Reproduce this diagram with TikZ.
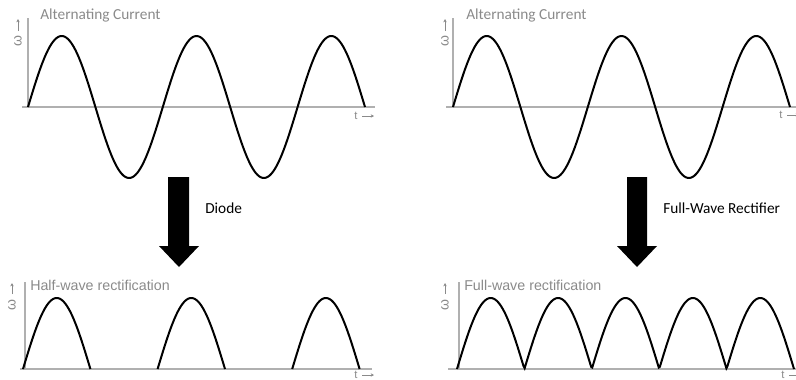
\documentclass[tikz,border=0pt]{standalone}
\usepackage{fontspec}
\setmainfont{Carlito}
\newfontfamily\arialf{Liberation Sans}
\usetikzlibrary{arrows.meta}
\definecolor{axisgray}{HTML}{B0B0B0}
\definecolor{textgray}{HTML}{8A8A8A}
\tikzset{
  axisline/.style={draw=axisgray, line width=1.1pt},
  wave/.style={draw=black, line width=1.5pt},
  title/.style={text=textgray, anchor=west, inner sep=0pt, font=\fontsize{11.5}{13}\selectfont},
  titleb/.style={text=textgray, anchor=west, inner sep=0pt, font=\arialf\fontsize{10.7}{12}\selectfont},
  omega/.style={text=textgray, rotate=90, inner sep=0pt, font=\arialf\fontsize{10.5}{12}\selectfont},
  smallarrow/.style={draw=textgray, line width=0.6pt, -{Stealth[length=2.5pt,width=2.5pt]}},
  tlabel/.style={text=textgray, inner sep=0pt, font=\arialf\fontsize{8.5}{10}\selectfont},
  blockarrow/.style={fill=black},
  arrowlabel/.style={anchor=west, inner sep=0pt, font=\fontsize{11.5}{13}\selectfont}
}
\begin{document}
\begin{tikzpicture}[x=0.75pt,y=-0.75pt]
\useasboundingbox (0,0) rectangle (796,379);
% ---------- top-left ----------
\draw[axisline] (28,18) -- (28,107);
\draw[axisline] (22,107) -- (375,107);
\draw[wave] plot[domain=0:900, samples=220] ({28+\x/360*134.8}, {107-71*sin(\x)});
\node[title] (tl) at (40,15) {Alternating Current};
\node[omega] (wtl) at (18,41) {ω};
\coordinate (atl1) at (18,31);
\coordinate (atl2) at (18,19);
\draw[smallarrow] (atl1) -- (atl2);
\node[tlabel] (ttl) at (356,116) {t};
\coordinate (ttla) at (362,116);
\coordinate (ttlb) at (374,116);
\draw[smallarrow] (ttla) -- (ttlb);
% ---------- top-right ----------
\draw[axisline] (453,18) -- (453,107);
\draw[axisline] (446,107) -- (796,107);
\draw[wave] plot[domain=0:900, samples=220] ({453+\x/360*134.8}, {107-71*sin(\x)});
\node[title] (tr) at (466,15) {Alternating Current};
\node[omega] (wtr) at (445,41) {ω};
\coordinate (atr1) at (445,31);
\coordinate (atr2) at (445,19);
\draw[smallarrow] (atr1) -- (atr2);
\node[tlabel] (ttr) at (781,115) {t};
\coordinate (ttra) at (787,115);
\coordinate (ttrb) at (799,115);
\draw[smallarrow] (ttra) -- (ttrb);
% ---------- block arrows ----------
\fill[blockarrow] (168,177) -- (189,177) -- (189,246) -- (199,246) -- (179,267) -- (159,246) -- (168,246) -- cycle;
\node[arrowlabel] (diode) at (205,208) {Diode};
\fill[blockarrow] (627,177) -- (647,177) -- (647,246) -- (657,246) -- (637,267) -- (617,246) -- (627,246) -- cycle;
\node[arrowlabel] (fwr) at (663,208) {Full-Wave Rectifier};
% ---------- bottom-left ----------
\draw[axisline] (25,282) -- (25,369);
\draw[axisline] (20,369) -- (372,369);
\foreach \s in {23,157.6,292.2}{
  \draw[wave] plot[domain=0:180, samples=80] ({\s+\x/360*134.8}, {369-71*sin(\x)});
}
\node[titleb] (bl) at (30,285) {Half-wave rectification};
\node[omega] (wbl) at (12,305) {ω};
\coordinate (abl1) at (12,294);
\coordinate (abl2) at (12,283);
\draw[smallarrow] (abl1) -- (abl2);
\node[tlabel] (tbl) at (356,374.5) {t};
\coordinate (tbla) at (362,375);
\coordinate (tblb) at (374,375);
\draw[smallarrow] (tbla) -- (tblb);
% ---------- bottom-right ----------
\draw[axisline] (459,282) -- (459,369);
\draw[axisline] (448,369) -- (796,369);
\draw[wave] plot[domain=0:900, samples=300] ({457+\x/360*134.8}, {369-71*abs(sin(\x))});
\node[titleb] (br) at (464,285) {Full-wave rectification};
\node[omega] (wbr) at (445,305) {ω};
\coordinate (abr1) at (445,294);
\coordinate (abr2) at (445,283);
\draw[smallarrow] (abr1) -- (abr2);
\node[tlabel] (tbr) at (783,374.5) {t};
\coordinate (tbra) at (789,375);
\coordinate (tbrb) at (801,375);
\draw[smallarrow] (tbra) -- (tbrb);
\end{tikzpicture}
\end{document}
